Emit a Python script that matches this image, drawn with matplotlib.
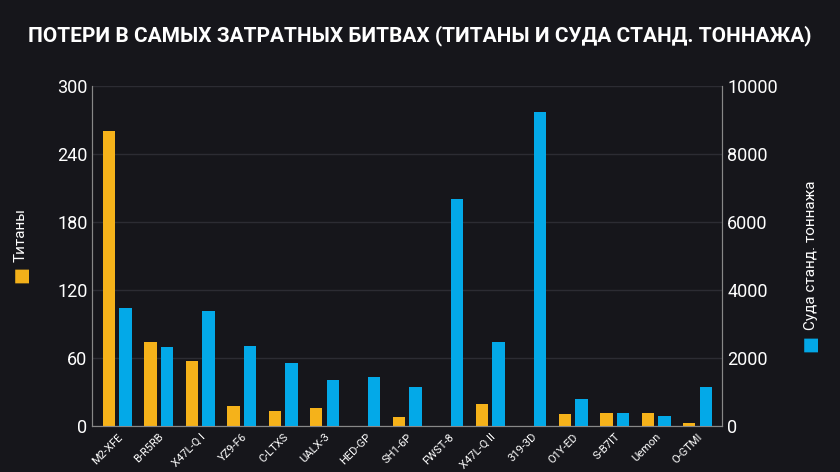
import matplotlib
matplotlib.use("Agg")
import matplotlib.pyplot as plt
import numpy as np

categories = ["M2-XFE","B-R5RB","X47L-Q I","YZ9-F6","C-LTXS","UALX-3","HED-GP","SH1-6P",
              "FWST-8","X47L-Q II","319-3D","O1Y-ED","S-B7IT","Uemon","O-GTMI"]
titans = [261,74,58,18,13,16,0,8,0,20,0,11,12,12,3]
ships = [3470,2320,3380,2350,1850,1350,1440,1150,6700,2470,9260,790,380,290,1150]

BG = "#16161b"
ORANGE = "#f5b21a"
BLUE = "#03a9e8"
plt.rcParams['font.family'] = ['Roboto', 'DejaVu Sans']

fig = plt.figure(figsize=(8.4, 4.72), dpi=100, facecolor=BG)
ax = fig.add_axes([0.11, 0.097, 0.75, 0.72])
ax.set_facecolor(BG)
ax2 = ax.twinx()
x = np.arange(len(categories))
w = 0.3
ax.bar(x - 0.2, titans, w, color=ORANGE, zorder=3)
ax2.bar(x + 0.2, ships, w, color=BLUE, zorder=3)
ax.set_xlim(-0.6, len(categories) - 0.4)
ax.set_ylim(0, 300)
ax2.set_ylim(0, 10000)
ax.set_yticks([0, 60, 120, 180, 240, 300])
ax2.set_yticks([0, 2000, 4000, 6000, 8000, 10000])
ax.grid(axis='y', color='#2c2c33', lw=1, zorder=0)
ax.set_xticks(x)
ax.set_xticklabels(categories, rotation=45, ha='right', rotation_mode='anchor', fontsize=8, color='white')
for a in (ax, ax2):
    for s in a.spines.values():
        s.set_color('#888888')
    a.spines['top'].set_visible(False)
    a.tick_params(colors='white', labelsize=13, length=0)
ax.tick_params(axis='x', labelsize=8, length=0, pad=4)

# axis titles with coloured squares
fig.text(0.025, 0.445, "Титаны", color='white', fontsize=11, rotation=90, ha='center', va='bottom')
fig.text(0.025, 0.40, "■", color=ORANGE, fontsize=13, rotation=90, ha='center', va='bottom')
fig.text(0.965, 0.30, "Суда станд. тоннажа", color='white', fontsize=11, rotation=90, ha='center', va='bottom')
fig.text(0.965, 0.255, "■", color=BLUE, fontsize=13, rotation=90, ha='center', va='bottom')

fig.text(0.5, 0.925, "ПОТЕРИ В САМЫХ ЗАТРАТНЫХ БИТВАХ (ТИТАНЫ И СУДА СТАНД. ТОННАЖА)",
         color='white', fontsize=15, fontweight='bold', ha='center', va='center')
fig.savefig("out.png", facecolor=BG)
